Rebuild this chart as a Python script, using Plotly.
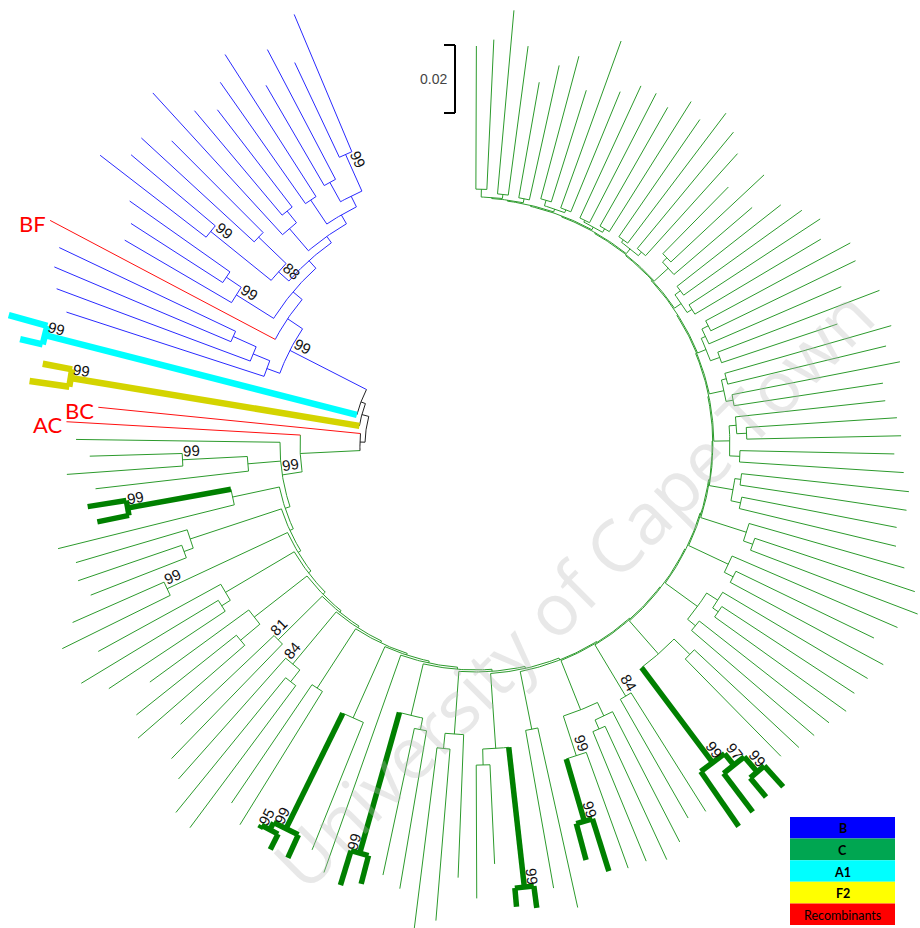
import math
import plotly.graph_objects as go

# ---------------- data ----------------
# Leaves in clockwise display order, starting at the top of the ring.
# Depth = distance of the tip from the root (substitutions / site).
LEAF_DEPTH = [
    0.085, 0.087, 0.096, 0.086, 0.076, 0.082, 0.086, 0.077, 0.094, 0.080,
    0.084, 0.084, 0.082, 0.087, 0.084, 0.090, 0.087, 0.083, 0.074, 0.084,
    0.075, 0.082, 0.086, 0.089, 0.086, 0.093, 0.092, 0.085, 0.095, 0.080,
    0.095, 0.092, 0.095, 0.089, 0.089, 0.092, 0.093, 0.091, 0.094, 0.096,
    0.096, 0.094, 0.095, 0.099, 0.104, 0.107, 0.103, 0.098, 0.104, 0.102,
    0.101, 0.102, 0.100, 0.099, 0.098, 0.096, 0.103, 0.102, 0.103, 0.104,
    0.095, 0.094, 0.099, 0.102, 0.100, 0.100, 0.099, 0.094, 0.107, 0.100,
    0.105, 0.104, 0.091, 0.101, 0.095, 0.108, 0.111, 0.100, 0.097, 0.101,
    0.103, 0.101, 0.096, 0.101, 0.101, 0.097, 0.099, 0.095, 0.108, 0.107,
    0.099, 0.096, 0.087, 0.099, 0.095, 0.086, 0.097, 0.103, 0.094, 0.103,
    0.097, 0.089, 0.091, 0.090, 0.094, 0.081, 0.083, 0.080, 0.088, 0.081,
    0.085, 0.088, 0.079, 0.100, 0.097, 0.105, 0.110, 0.094, 0.099, 0.102,
    0.103, 0.109, 0.087, 0.088, 0.092, 0.107, 0.100, 0.101, 0.094, 0.108,
    0.096, 0.092, 0.098, 0.104, 0.090, 0.099, 0.092, 0.105,
]
LEAF_PARENT = [
    "q31b", "q31b", "q31a", "q31a", "q30", "q30", "q29b", "q29b", "q29a", "q29a",
    "q28b", "q28b", "q28a", "q28a", "q27b", "q27b", "q27a", "q27a", "q26b", "q26b",
    "q26", "q25b", "q25b", "q25a", "q25a", "q24c", "q24c", "q24b", "q24a", "q24a",
    "q23b", "q23b", "q23a", "q23a", "q22b", "q22c", "q22c", "q22a", "q22a", "q21b",
    "q21b", "q21a", "q21a", "q20", "q20b", "q20b", "q19", "q19b", "q19b", "q18b",
    "q18c", "q18c", "q18a", "q18a", "q17c", "q17c", "Nc", "Nc", "Nb", "Na",
    "q16", "q16", "q15a", "q15b", "q15b", "Nt1", "Nt2", "Nt2", "q14", "q14",
    "q13", "q13", "q13c", "q13c", "q12", "q12b", "q12b", "q11c", "q11c", "q11",
    "q11", "C10", "q9s", "q9", "q9b", "q9b", "q8", "q8", "q7b", "q7b",
    "q7", "q6", "q6", "q5b", "q5b", "q5", "q4b", "q4b", "q4", "q3",
    "q3", "q2b", "q2b", "q2", "q1", "q1t", "q1t", "q0a", "q0b", "q0b",
    "C0", "NAC", "Y1", "F2n", "F2n", "A1n", "A1n", "Bl1", "Bl2", "Bl3",
    "Bl3", "B1", "B2a", "B2b", "B2b", "B3c", "B3c", "B3d", "B3d", "B4a",
    "B4b", "B4b", "B5a", "B5a", "B6a", "B6a", "B6b", "B6b",
]
# C = subtype C, H = highlighted C clusters, B, A1, F2, R = recombinant
LEAF_GROUP = [
    "C", "C", "C", "C", "C", "C", "C", "C", "C", "C",
    "C", "C", "C", "C", "C", "C", "C", "C", "C", "C",
    "C", "C", "C", "C", "C", "C", "C", "C", "C", "C",
    "C", "C", "C", "C", "C", "C", "C", "C", "C", "C",
    "C", "C", "C", "C", "C", "C", "C", "C", "C", "C",
    "C", "C", "C", "C", "C", "C", "H", "H", "H", "H",
    "C", "C", "C", "C", "C", "C", "H", "H", "C", "C",
    "H", "H", "C", "C", "C", "C", "C", "C", "C", "H",
    "H", "C", "C", "H", "H", "H", "C", "C", "C", "C",
    "C", "C", "C", "C", "C", "C", "C", "C", "C", "C",
    "C", "C", "C", "C", "C", "H", "H", "C", "C", "C",
    "C", "R", "R", "F2", "F2", "A1", "A1", "B", "B", "B",
    "B", "R", "B", "B", "B", "B", "B", "B", "B", "B",
    "B", "B", "B", "B", "B", "B", "B", "B",
]
TAG_LEAF = [121, 112, 111]
TAG_TEXT = ["BF", "BC", "AC"]

NODE_NAME = [
    "root", "X1", "X2", "Y1", "A1n", "F2n", "NAC",
    "B0", "Bl1", "Bl2", "Bl3", "B1", "B2", "B2a", "B2b", "B3", "B3a", "B3c", "B3d",
    "B4", "B4a", "B4b", "B5", "B5a", "B6", "B6a", "B6b",
    "C0", "q0a", "q0b", "C1", "q1", "q1t", "C2", "q2", "q2b", "C3", "q3",
    "C4", "q4", "q4b", "C5", "q5", "q5b", "C6", "q6", "C7", "q7", "q7b",
    "C8", "q8", "C9", "q9s", "q9", "q9b", "C10", "C11", "q11s", "q11c", "q11",
    "C12", "q12", "q12b", "C13", "q13s", "q13", "q13c", "C14", "q14",
    "C15", "q15s", "q15a", "q15b", "Nt1", "Nt2", "C16", "q16",
    "C17", "q17s", "q17c", "Na", "Nb", "Nc",
    "C18", "q18", "q18a", "q18b", "q18c", "C19", "q19", "q19b", "C20", "q20", "q20b",
    "C21", "q21", "q21a", "q21b", "C22", "q22", "q22a", "q22b", "q22c",
    "C23", "q23", "q23a", "q23b", "C24", "q24", "q24a", "q24b", "q24c",
    "C25", "q25", "q25a", "q25b", "C26", "q26", "q26b", "C27", "q27", "q27a", "q27b",
    "C28", "q28", "q28a", "q28b", "C29", "q29", "q29a", "q29b", "C30", "q30",
    "C31", "q31a", "q31b",
]
NODE_PARENT = [
    None, "root", "X1", "root", "X2", "X1", "Y1",
    "X2", "B0", "Bl1", "Bl2", "B0", "B1", "B2", "B2a", "B2", "B3", "B3a", "B3a",
    "B3", "B4", "B4a", "B4", "B5", "B5", "B6", "B6",
    "NAC", "C0", "q0a", "C0", "C1", "q1", "C1", "C2", "q2", "C2", "C3",
    "C3", "C4", "q4", "C4", "C5", "q5", "C5", "C6", "C6", "C7", "q7",
    "C7", "C8", "C8", "C9", "q9s", "q9", "C9", "C10", "C11", "q11s", "q11s",
    "C11", "C12", "q12", "C12", "C13", "q13s", "q13s", "C13", "C14",
    "C14", "C15", "q15s", "q15a", "q15s", "Nt1", "C15", "C16",
    "C16", "C17", "q17s", "q17s", "Na", "Nb",
    "C17", "C18", "q18", "q18", "q18b", "C18", "C19", "q19", "C19", "C20", "q20",
    "C20", "C21", "q21", "q21", "C21", "C22", "q22", "q22", "q22b",
    "C22", "C23", "q23", "q23", "C23", "C24", "q24", "q24", "q24b",
    "C24", "C25", "q25", "q25", "C25", "C26", "q26", "C26", "C27", "q27", "q27",
    "C27", "C28", "q28", "q28", "C28", "C29", "q29", "q29", "C29", "C30",
    "C30", "C31", "C31",
]
NODE_DEPTH = [
    0.0, 0.0021, 0.0035, 0.0015, 0.0982, 0.0882, 0.0191,
    0.0288, 0.0329, 0.0382, 0.0456, 0.0341, 0.0376, 0.0506, 0.0559, 0.0406, 0.0447, 0.0676, 0.0559,
    0.0429, 0.0515, 0.0559, 0.0459, 0.0544, 0.0494, 0.0559, 0.0612,
    0.0250, 0.0347, 0.0538, 0.0265, 0.0406, 0.0715, 0.0276, 0.0559, 0.0588, 0.0285, 0.0676,
    0.0294, 0.0529, 0.0559, 0.0303, 0.0500, 0.0574, 0.0309, 0.0491, 0.0315, 0.0515, 0.0559,
    0.0321, 0.0529, 0.0326, 0.0556, 0.0935, 0.0959, 0.0332, 0.0338, 0.0494, 0.0529, 0.0924,
    0.0344, 0.0529, 0.0574, 0.0350, 0.0571, 0.0985, 0.0618, 0.0356, 0.0529,
    0.0359, 0.0515, 0.0559, 0.0588, 0.0638, 0.0829, 0.0362, 0.0538,
    0.0365, 0.0494, 0.0559, 0.0844, 0.0888, 0.0947,
    0.0368, 0.0485, 0.0515, 0.0524, 0.0544, 0.0371, 0.0500, 0.0529, 0.0374, 0.0515, 0.0544,
    0.0376, 0.0447, 0.0476, 0.0465, 0.0379, 0.0426, 0.0456, 0.0447, 0.0476,
    0.0382, 0.0426, 0.0447, 0.0441, 0.0385, 0.0412, 0.0441, 0.0426, 0.0447,
    0.0388, 0.0412, 0.0429, 0.0432, 0.0391, 0.0447, 0.0465, 0.0394, 0.0412, 0.0426, 0.0421,
    0.0397, 0.0406, 0.0418, 0.0412, 0.0400, 0.0409, 0.0418, 0.0426, 0.0403, 0.0415,
    0.0406, 0.0418, 0.0429,
]
NODE_GROUP = [
    "K", "K", "K", "K", "A1", "F2", "C",
    "B", "B", "B", "B", "B", "B", "B", "B", "B", "B", "B", "B",
    "B", "B", "B", "B", "B", "B", "B", "B",
    "C", "C", "C", "C", "C", "H", "C", "C", "C", "C", "C",
    "C", "C", "C", "C", "C", "C", "C", "C", "C", "C", "C",
    "C", "C", "C", "C", "H", "H", "C", "C", "C", "C", "H",
    "C", "C", "C", "C", "C", "H", "C", "C", "C",
    "C", "C", "C", "C", "C", "H", "C", "C",
    "C", "C", "C", "H", "H", "H",
    "C", "C", "C", "C", "C", "C", "C", "C", "C", "C", "C",
    "C", "C", "C", "C", "C", "C", "C", "C", "C",
    "C", "C", "C", "C", "C", "C", "C", "C", "C",
    "C", "C", "C", "C", "C", "C", "C", "C", "C", "C", "C",
    "C", "C", "C", "C", "C", "C", "C", "C", "C", "C",
    "C", "C", "C",
]
NODE_SUPPORT = [
    0, 0, 0, 0, 99, 99, 0,
    99, 0, 0, 0, 0, 0, 99, 0, 0, 88, 99, 0,
    0, 0, 0, 0, 0, 0, 0, 99,
    99, 0, 99, 0, 0, 99, 0, 0, 0, 0, 99,
    0, 0, 0, 0, 0, 0, 0, 81, 0, 84, 0,
    0, 0, 0, 0, 99, 95, 0, 0, 0, 0, 99,
    0, 0, 0, 0, 0, 99, 0, 0, 0,
    0, 0, 0, 0, 99, 99, 0, 84,
    0, 0, 0, 99, 97, 99,
    0, 0, 0, 0, 0, 0, 0, 0, 0, 0, 0,
    0, 0, 0, 0, 0, 0, 0, 0, 0,
    0, 0, 0, 0, 0, 0, 0, 0, 0,
    0, 0, 0, 0, 0, 0, 0, 0, 0, 0, 0,
    0, 0, 0, 0, 0, 0, 0, 0, 0, 0,
    0, 0, 0,
]

LEGEND_LABEL = ["B", "C", "A1", "F2", "Recombinants"]
LEGEND_COLOR = ["#0000ff", "#00a651", "#00ffff", "#ffff00", "#ff0000"]
SCALE_BAR_VALUE = 0.02
SCALE_BAR_TEXT = "0.02"
WATERMARK = "University of Cape Town"

# ---------------- layout ----------------
CX, CY = 475.0, 445.0          # centre of the circular layout (page px)
R_ROOT = 110.0                 # radius of the root (hollow centre)
PX_PER_UNIT = 3400.0           # px per substitution/site
THETA0, STEP = 89.8, 2.46      # first leaf angle, angular leaf spacing (deg)

STYLE = {
    "C": ("#2c9a2c", 1.0),
    "B": ("#2a2aff", 1.0),
    "R": ("#ff1010", 1.0),
    "K": ("#222222", 1.0),
    "H": ("#008000", 5.5),
    "A1": ("#00ffff", 6.5),
    "F2": ("#d4d400", 6.5),
}
DRAW_ORDER = ["C", "B", "R", "K", "H", "A1", "F2"]


def radius(d):
    return R_ROOT + d * PX_PER_UNIT


def to_xy(r, th):
    a = math.radians(th)
    return CX + r * math.cos(a), CY - r * math.sin(a)


node_idx = {n: i for i, n in enumerate(NODE_NAME)}
children = {n: [] for n in NODE_NAME}
for n, p in zip(NODE_NAME, NODE_PARENT):
    if p is not None:
        children[p].append(("n", n))
for k, p in enumerate(LEAF_PARENT):
    children[p].append(("l", k))

leaf_theta = [THETA0 - STEP * k for k in range(len(LEAF_DEPTH))]
node_theta = {}


def child_theta(c):
    return leaf_theta[c[1]] if c[0] == "l" else node_theta[c[1]]


def solve(n):
    for kind, v in children[n]:
        if kind == "n":
            solve(v)
    ths = [child_theta(c) for c in children[n]]
    node_theta[n] = (min(ths) + max(ths)) / 2.0


solve("root")

segs = {g: ([], []) for g in STYLE}


def add_radial(g, r0, r1, th):
    x0, y0 = to_xy(r0, th)
    x1, y1 = to_xy(r1, th)
    xs, ys = segs[g]
    xs += [x0, x1, None]
    ys += [y0, y1, None]


def add_arc(g, r, t0, t1):
    n = max(2, int(abs(t1 - t0) / 0.5) + 2)
    xs, ys = segs[g]
    for i in range(n):
        t = t0 + (t1 - t0) * i / (n - 1)
        x, y = to_xy(r, t)
        xs.append(x)
        ys.append(y)
    xs.append(None)
    ys.append(None)


def node_r(n):
    return radius(NODE_DEPTH[node_idx[n]])


for k, p in enumerate(LEAF_PARENT):
    add_radial(LEAF_GROUP[k], node_r(p), radius(LEAF_DEPTH[k]), leaf_theta[k])

for n, p, g in zip(NODE_NAME, NODE_PARENT, NODE_GROUP):
    if p is not None:
        add_radial(g, node_r(p), node_r(n), node_theta[n])
    ths = [child_theta(c) for c in children[n]]
    add_arc(g, node_r(n), min(ths), max(ths))

fig = go.Figure()
for g in DRAW_ORDER:
    col, w = STYLE[g]
    xs, ys = segs[g]
    fig.add_trace(go.Scatter(x=xs, y=ys, mode="lines", hoverinfo="skip",
                             line=dict(color=col, width=w), showlegend=False))

annotations = []
shapes = []

# watermark
annotations.append(dict(x=572, y=588, text=WATERMARK, textangle=-45, showarrow=False,
                        font=dict(size=72, color="rgba(185,185,185,0.33)", family="Open Sans")))

# bootstrap values: written along the branch, just above it in the text's own frame
for n, s in zip(NODE_NAME, NODE_SUPPORT):
    if not s:
        continue
    th = node_theta[n]
    a = math.radians(th)
    x, y = to_xy(node_r(n) - 10, th)
    alpha = th if math.cos(a) > 0 else th + 180
    alpha = (alpha + 180) % 360 - 180
    al = math.radians(alpha)
    x += -9 * math.sin(al)
    y += -9 * math.cos(al)
    annotations.append(dict(x=x, y=y, text=str(s), textangle=-alpha, showarrow=False,
                            font=dict(size=15, color="#111111", family="Liberation Sans")))

# recombinant labels
for k, t in zip(TAG_LEAF, TAG_TEXT):
    x, y = to_xy(radius(LEAF_DEPTH[k]), leaf_theta[k])
    annotations.append(dict(x=x - 2, y=y + 3, text=t, xanchor="right", yanchor="middle",
                            showarrow=False, font=dict(size=22, color="#ff0000", family="Lato")))

# scale bar
SBX, SBY = 455, 45
sb_len = SCALE_BAR_VALUE * PX_PER_UNIT
for (x0, y0, x1, y1) in [(SBX, SBY, SBX, SBY + sb_len), (SBX - 11, SBY, SBX, SBY),
                         (SBX - 11, SBY + sb_len, SBX, SBY + sb_len)]:
    shapes.append(dict(type="line", xref="x", yref="y", x0=x0, y0=y0, x1=x1, y1=y1,
                       line=dict(color="#000000", width=2)))
annotations.append(dict(x=SBX - 6, y=SBY + sb_len / 2, text=SCALE_BAR_TEXT, xanchor="right",
                        yanchor="middle", showarrow=False,
                        font=dict(size=14, color="#444444", family="Liberation Sans")))

# legend
LX0, LX1, LY0, LH = 790, 895, 817, 21.6
for i, (lab, col) in enumerate(zip(LEGEND_LABEL, LEGEND_COLOR)):
    y0 = LY0 + i * LH
    shapes.append(dict(type="rect", xref="x", yref="y", x0=LX0, x1=LX1, y0=y0, y1=y0 + LH,
                       fillcolor=col, line=dict(width=0), layer="above"))
    txt = "<b>%s</b>" % lab if i < 4 else lab
    annotations.append(dict(x=(LX0 + LX1) / 2, y=y0 + LH / 2 + 1, text=txt, showarrow=False,
                            font=dict(size=12.5, color="#000000", family="Lato")))

fig.update_layout(
    width=920, height=928,
    margin=dict(l=0, r=0, t=0, b=0),
    paper_bgcolor="white", plot_bgcolor="white",
    xaxis=dict(range=[0, 920], visible=False, fixedrange=True),
    yaxis=dict(range=[928, 0], visible=False, fixedrange=True),
    showlegend=False,
    annotations=annotations,
    shapes=shapes,
)

fig.write_html("out.html", config={"displayModeBar": False},
               post_script="document.body.style.margin='0';document.body.style.overflow='hidden';")
